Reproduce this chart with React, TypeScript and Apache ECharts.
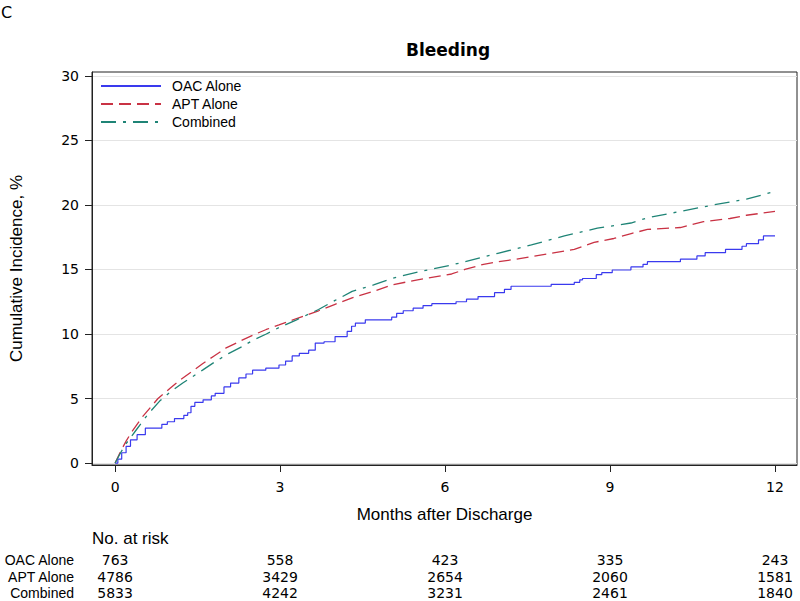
import React, { useEffect, useRef } from "react";
import * as echarts from "echarts";

const seriesNames = ["OAC Alone", "APT Alone", "Combined"];
const monthTicks = [0, 3, 6, 9, 12];
const pctTicks = [0, 5, 10, 15, 20, 25, 30];

const oacAlone: [number, number][] = [
  [0, 0], [0.05, 0.3], [0.12, 0.8], [0.2, 1.3], [0.28, 1.8], [0.4, 2.2], [0.55, 2.7],
  [0.85, 3.0], [0.95, 3.2], [1.08, 3.45], [1.25, 3.7], [1.32, 3.9], [1.38, 4.4],
  [1.45, 4.7], [1.6, 4.9], [1.75, 5.2], [1.82, 5.4], [1.98, 5.9], [2.1, 6.2],
  [2.25, 6.6], [2.38, 6.9], [2.5, 7.2], [2.74, 7.35], [2.98, 7.6], [3.1, 7.9],
  [3.22, 8.3], [3.35, 8.5], [3.52, 8.75], [3.64, 9.3], [3.8, 9.4], [4.0, 9.8],
  [4.22, 10.2], [4.3, 10.6], [4.37, 10.85], [4.55, 11.1], [5.03, 11.3], [5.12, 11.6],
  [5.24, 11.8], [5.42, 12.0], [5.6, 12.2], [5.76, 12.35], [6.2, 12.5], [6.39, 12.7],
  [6.6, 12.9], [6.9, 13.2], [7.08, 13.45], [7.2, 13.7], [7.93, 13.85], [8.35, 14.0],
  [8.45, 14.2], [8.5, 14.3], [8.75, 14.6], [8.85, 14.75], [9.04, 14.96], [9.38, 15.2],
  [9.6, 15.4], [9.68, 15.6], [10.28, 15.8], [10.58, 16.05], [10.73, 16.3], [11.1, 16.55],
  [11.4, 16.8], [11.48, 17.0], [11.7, 17.3], [11.79, 17.6], [12.0, 17.6],
];

const aptAlone: [number, number][] = [
  [0, 0], [0.1, 0.9], [0.2, 1.7], [0.3, 2.4], [0.5, 3.6], [0.78, 5.0], [1.0, 5.8],
  [1.17, 6.4], [1.4, 7.1], [1.59, 7.7], [1.8, 8.3], [2.01, 8.9], [2.25, 9.4],
  [2.5, 9.9], [2.75, 10.35], [2.98, 10.7], [3.3, 11.2], [3.7, 11.8], [4.0, 12.3],
  [4.31, 12.8], [4.7, 13.3], [5.03, 13.8], [5.5, 14.2], [6.12, 14.65], [6.36, 15.0],
  [6.7, 15.4], [6.96, 15.6], [7.3, 15.8], [7.57, 16.0], [8.0, 16.3], [8.35, 16.55],
  [8.71, 17.1], [9.07, 17.4], [9.4, 17.8], [9.68, 18.1], [10.28, 18.25], [10.7, 18.7],
  [11.18, 18.95], [11.48, 19.2], [12.0, 19.5],
];

const combined: [number, number][] = [
  [0, 0], [0.1, 0.8], [0.2, 1.5], [0.39, 2.6], [0.6, 3.8], [0.81, 4.8], [1.0, 5.5],
  [1.23, 6.2], [1.59, 7.2], [1.8, 7.8], [2.07, 8.5], [2.3, 9.0], [2.5, 9.5],
  [2.75, 10.0], [2.98, 10.5], [3.3, 11.1], [3.7, 11.9], [4.0, 12.6], [4.31, 13.3],
  [4.7, 13.8], [5.03, 14.3], [5.5, 14.8], [6.12, 15.35], [6.36, 15.6], [6.96, 16.25],
  [7.57, 16.9], [8.17, 17.6], [8.77, 18.2], [9.38, 18.6], [9.68, 19.0], [10.28, 19.5],
  [10.88, 20.0], [11.48, 20.45], [12.0, 21.05],
];

const atRiskOac = [763, 558, 423, 335, 243];
const atRiskApt = [4786, 3429, 2654, 2060, 1581];
const atRiskCombined = [5833, 4242, 3231, 2461, 1840];

const SANS = "'Liberation Sans', Arial, sans-serif";
const DEJAVU = "'DejaVu Sans', Verdana, sans-serif";

export default function App() {
  const ref = useRef<HTMLDivElement>(null);

  useEffect(() => {
    if (!ref.current) return;
    const chart = echarts.init(ref.current, null, { renderer: "svg" });

    const option: any = {
      animation: false,
      backgroundColor: "#fff",
      title: {
        text: "Bleeding",
        left: 443,
        textAlign: "center",
        top: 36,
        textStyle: { fontFamily: DEJAVU, fontWeight: "bold", fontSize: 17, color: "#000" },
      },
      legend: {
        orient: "vertical",
        left: 100,
        top: 79,
        padding: 0,
        itemWidth: 60,
        itemHeight: 14,
        itemGap: 4,
        data: seriesNames,
        itemStyle: { opacity: 0 },
        textStyle: { fontFamily: SANS, fontSize: 14, color: "#000", padding: [0, 0, 0, 6] },
      },
      grid: {
        left: 89,
        right: 3,
        top: 72,
        bottom: 136,
        show: true,
        borderColor: "#222",
        borderWidth: 1,
      },
      xAxis: {
        type: "value",
        min: -0.42,
        max: 12.4,
        name: "Months after Discharge",
        nameLocation: "middle",
        nameGap: 41,
        nameTextStyle: { fontFamily: SANS, fontSize: 17, color: "#000" },
        axisLine: { show: true, onZero: false, lineStyle: { color: "#222" } },
        axisTick: { show: true, length: 7, lineStyle: { color: "#222" }, customValues: monthTicks },
        axisLabel: {
          fontFamily: DEJAVU, fontSize: 14, color: "#000", margin: 15, customValues: monthTicks,
        },
        splitLine: { show: false },
      },
      yAxis: {
        type: "value",
        min: -0.15,
        max: 30.3,
        name: "Cumulative Incidence, %",
        nameLocation: "middle",
        nameGap: 67,
        nameTextStyle: { fontFamily: SANS, fontSize: 17, color: "#000" },
        axisLine: { show: true, onZero: false, lineStyle: { color: "#222" } },
        axisTick: { show: true, length: 7, lineStyle: { color: "#222" }, customValues: pctTicks },
        axisLabel: {
          fontFamily: DEJAVU, fontSize: 14, color: "#000", margin: 13, customValues: pctTicks,
        },
        splitLine: { show: true, lineStyle: { color: "#e4e4e4", width: 1 } },
      },
      series: [
        {
          name: seriesNames[0],
          type: "line",
          step: "end",
          symbol: "none",
          data: oacAlone,
          lineStyle: { color: "#3a3aee", width: 1.2, type: "solid" },
          itemStyle: { color: "#3a3aee" },
        },
        {
          name: seriesNames[1],
          type: "line",
          symbol: "none",
          data: aptAlone,
          lineStyle: { color: "#c93244", width: 1.3, type: [12, 6] },
          itemStyle: { color: "#c93244" },
        },
        {
          name: seriesNames[2],
          type: "line",
          symbol: "none",
          data: combined,
          lineStyle: { color: "#1f8476", width: 1.3, type: [15, 7, 3, 7] },
          itemStyle: { color: "#1f8476" },
        },
      ],
    };

    chart.setOption(option);

    const rows: { label: string; values: number[]; y: number }[] = [
      { label: "OAC Alone", values: atRiskOac, y: 560 },
      { label: "APT Alone", values: atRiskApt, y: 577 },
      { label: "Combined", values: atRiskCombined, y: 593 },
    ];

    const graphics: any[] = [
      {
        type: "text",
        left: 1,
        top: 4,
        style: { text: "C", fontFamily: DEJAVU, fontSize: 16, fill: "#000" },
      },
      {
        type: "text",
        x: 92,
        y: 538,
        style: {
          text: "No. at risk", fontFamily: SANS, fontSize: 17, fill: "#000",
          verticalAlign: "middle", align: "left",
        },
      },
    ];

    rows.forEach((r) => {
      graphics.push({
        type: "text",
        x: 74,
        y: r.y,
        style: {
          text: r.label, fontFamily: SANS, fontSize: 14, fill: "#000",
          align: "right", verticalAlign: "middle",
        },
      });
      r.values.forEach((v, i) => {
        const px = chart.convertToPixel({ xAxisIndex: 0 }, monthTicks[i]) as number;
        graphics.push({
          type: "text",
          x: px,
          y: r.y,
          style: {
            text: String(v), fontFamily: DEJAVU, fontSize: 14, fill: "#000",
            align: "center", verticalAlign: "middle",
          },
        });
      });
    });

    chart.setOption({ graphic: graphics });

    return () => chart.dispose();
  }, []);

  return (
    <div
      ref={ref}
      style={{ position: "fixed", left: 0, top: 0, width: 800, height: 601 }}
    />
  );
}
